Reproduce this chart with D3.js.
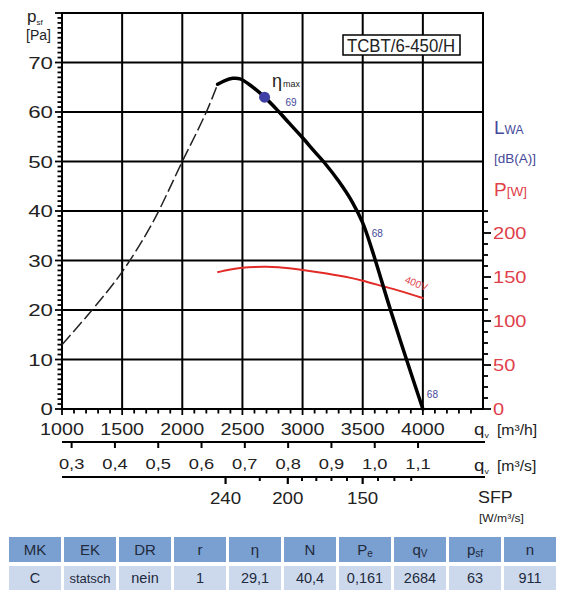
<!DOCTYPE html>
<html><head><meta charset="utf-8">
<script src="https://cdn.jsdelivr.net/npm/d3@7"></script>
<style>body{margin:0;background:#fff} svg{display:block} text{font-family:"Liberation Sans",Arial,Helvetica,sans-serif}</style>
</head><body><svg id="c" width="567" height="600"></svg>
<script>
// ---- data ----
const flowTicks = [1000,1500,2000,2500,3000,3500,4000];
const flowLabels = ["1000","1500","2000","2500","3000","3500","4000"];
const pressureTicks = [0,10,20,30,40,50,60,70];
const powerTicks = [0,50,100,150,200];
const flowM3sTicks = [0.3,0.4,0.5,0.6,0.7,0.8,0.9,1.0,1.1];
const flowM3sLabels = ["0,3","0,4","0,5","0,6","0,7","0,8","0,9","1,0","1,1"];
const sfpMajor = [240,200,150];
const sfpMinor = [220,190,180,170,160,140,130,120];
const dashQ = [1000,1250,1500,1750,2000,2200,2294];
const dashP = [13,20,27.7,37.5,50,60,65.6];
const solidQ = [2294,2350,2420,2480,2560,2684,2805,2887,3000,3100,3177,3301,3411,3500,3577,3731,3864,4000];
const solidP = [65.6,66.3,66.8,66.7,65.5,63,60,57.8,54.8,52.0,49.9,46,41.9,37.6,32.2,20,10,0];
const powerQ = [2291,2400,2500,2600,2700,2800,3000,3200,3400,3500,3660,3800,4005];
const powerW = [155.3,158.5,160.5,161.5,161.7,161,158,154,149,145.8,139.8,134.5,125.8];
const etaMaxQ = 2684, etaMaxP = 63;
const noiseQ = [2684,3500,4000];
const noiseDb = ["69","68","68"];
const tableHeaders = ["MK","EK","DR","r","η","N","P","q","p","n"];
const tableHeaderSubs = ["","","","","","","e","V","sf",""];
const tableValues = ["C","statsch","nein","1","29,1","40,4","0,161","2684","63","911"];
const modelName = "TCBT/6-450/H";

// ---- scales ----
const svg = d3.select('#c');
const x = d3.scaleLinear().domain([1000,4500]).range([62,483]);
const y = d3.scaleLinear().domain([0,80]).range([409,13]);
const yP = d3.scaleLinear().domain([0,200]).range([409,233]);
const xs = v => x(v*3600);
const TXT = "#222";
const RED = "#e0404a";
const BLUE = "#45489a";

function txt(g, px, py, s, o={}) {
  const t = g.append('text')
    .attr('transform', `translate(${px},${py}) scale(${o.sx||1},1)`)
    .attr('font-size', o.size||16)
    .attr('fill', o.fill||TXT)
    .attr('text-anchor', o.anchor||'start')
    .text(s);
  return t;
}

// ---- grid ----
const grid = svg.append('g').attr('stroke','#000').attr('stroke-width',2);
flowTicks.slice(1).forEach(v=>grid.append('line').attr('x1',x(v)).attr('x2',x(v)).attr('y1',y(80)).attr('y2',y(0)));
pressureTicks.slice(1).forEach(v=>grid.append('line').attr('x1',x(1000)).attr('x2',x(4500)).attr('y1',y(v)).attr('y2',y(v)));
grid.append('rect').attr('x',x(1000)).attr('y',y(80)).attr('width',x(4500)-x(1000)).attr('height',y(0)-y(80)).attr('fill','none');

// ---- ticks ----
const tk = svg.append('g').attr('stroke','#000').attr('stroke-width',1.8);
d3.range(0,81,1).forEach(v=>tk.append('line').attr('x1',x(1000)-(v%10===0?7:4.5)).attr('x2',x(1000)).attr('y1',y(v)).attr('y2',y(v)));
d3.range(1000,4500,100).forEach(v=>tk.append('line').attr('x1',x(v)).attr('x2',x(v)).attr('y1',y(0)).attr('y2',y(0)+(v%500===0?6:4.5)));
d3.range(0,226,12.5).forEach(v=>tk.append('line').attr('x1',x(4500)).attr('x2',x(4500)+(v%50===0?8:5)).attr('y1',yP(v)).attr('y2',yP(v)));

// ---- tick labels ----
const lab = svg.append('g');
pressureTicks.forEach(v=>txt(lab,53,y(v)+6,String(v),{anchor:'end',size:16.5,sx:1.35}));
flowTicks.forEach((v,i)=>txt(lab,x(v),435,flowLabels[i],{anchor:'middle',size:17,sx:1.16}));
powerTicks.forEach(v=>txt(lab,493,yP(v)+6,String(v),{size:17,sx:1.18,fill:RED}));

// second axis m3/s
svg.append('line').attr('x1',62).attr('x2',485).attr('y1',442).attr('y2',442).attr('stroke','#000').attr('stroke-width',2);
flowM3sTicks.forEach((v,i)=>{
  svg.append('line').attr('x1',xs(v)).attr('x2',xs(v)).attr('y1',442).attr('y2',448).attr('stroke','#000').attr('stroke-width',2);
  txt(lab,xs(v),469,flowM3sLabels[i],{anchor:'middle',size:15,sx:1.22});
});

// SFP axis: position from P(q)/q
const pOfQ = d3.scaleLinear().domain(powerQ).range(powerW);
const qSamples = d3.range(2300,4001,10);
const sfpSamples = qSamples.map(q=>pOfQ(q)/(q/3600));
const qOfSfp = d3.scaleLinear().domain(sfpSamples).range(qSamples);
svg.append('line').attr('x1',62).attr('x2',485).attr('y1',477).attr('y2',477).attr('stroke','#000').attr('stroke-width',2);
sfpMajor.forEach(v=>{
  const px = x(qOfSfp(v));
  svg.append('line').attr('x1',px).attr('x2',px).attr('y1',477).attr('y2',484).attr('stroke','#000').attr('stroke-width',2.2);
  txt(lab,px,504,String(v),{anchor:'middle',size:16,sx:1.17});
});
sfpMinor.forEach(v=>{
  const px = x(qOfSfp(v));
  svg.append('line').attr('x1',px).attr('x2',px).attr('y1',477).attr('y2',481).attr('stroke','#000').attr('stroke-width',2);
});

// ---- axis titles ----
let t = txt(svg,27,22,'p',{size:17});
t.append('tspan').attr('font-size',8).attr('dy',3).text('sf');
txt(svg,26,40,'[Pa]',{size:14});
t = txt(svg,474,435,'q',{size:17,sx:1.1});
t.append('tspan').attr('font-size',8).attr('dy',3).text('v');
txt(svg,497,435,'[m³/h]',{size:15,sx:1.05});
t = txt(svg,474,471,'q',{size:17,sx:1.1});
t.append('tspan').attr('font-size',8).attr('dy',3).text('v');
txt(svg,497,471,'[m³/s]',{size:15,sx:1.05});
txt(svg,478,503,'SFP',{size:16,sx:1.12});
txt(svg,479,522,'[W/m³/s]',{size:11,sx:1.1});
t = txt(svg,494,134,'L',{size:19,fill:BLUE});
t.append('tspan').attr('font-size',12).text('WA');
txt(svg,494,163,'[dB(A)]',{size:13.5,fill:BLUE});
t = txt(svg,494,196,'P',{size:19,fill:RED});
t.append('tspan').attr('font-size',13.5).text('[W]');

// ---- model box ----
svg.append('rect').attr('x',343).attr('y',35).attr('width',117).attr('height',20).attr('fill','#fff').attr('stroke','#000').attr('stroke-width',1.5);
svg.append('text').attr('x',347).attr('y',51.5).attr('font-size',19).attr('fill',TXT)
  .attr('textLength',108).attr('lengthAdjust','spacingAndGlyphs').text(modelName);

// ---- curves ----
const lineP = d3.line().x(d=>x(d[0])).y(d=>y(d[1])).curve(d3.curveCatmullRom.alpha(0.5));
const lineW = d3.line().x(d=>x(d[0])).y(d=>yP(d[1])).curve(d3.curveCatmullRom.alpha(0.5));
svg.append('path').attr('d',lineP(dashQ.map((q,i)=>[q,dashP[i]]))).attr('fill','none').attr('stroke','#222').attr('stroke-width',1.5).attr('stroke-dasharray','13,4');
svg.append('path').attr('d',lineW(powerQ.map((q,i)=>[q,powerW[i]]))).attr('fill','none').attr('stroke','#e22b26').attr('stroke-width',2);
svg.append('path').attr('d',lineP(solidQ.map((q,i)=>[q,solidP[i]]))).attr('fill','none').attr('stroke','#000').attr('stroke-width',3.5).attr('stroke-linecap','round');
svg.append('circle').attr('cx',x(etaMaxQ)).attr('cy',y(etaMaxP)).attr('r',5.5).attr('fill','#3f3fa6');

// labels
const pOnCurve = d3.scaleLinear().domain(solidQ).range(solidP);
const noiseOffsets = [[21,9],[9,14],[4,-11]];
noiseQ.forEach((q,i)=>{
  svg.append('text').attr('x',x(q)+noiseOffsets[i][0]).attr('y',y(pOnCurve(q))+noiseOffsets[i][1])
    .attr('font-size',10).attr('fill',BLUE).text(noiseDb[i]);
});
t = txt(svg,272,87,'η',{size:18});
t.append('tspan').attr('font-size',9).attr('dx',1).text('max');
svg.append('text').attr('transform',`translate(${x(3845)},${yP(144)}) rotate(22)`).attr('font-size',10).attr('fill',RED).text('400V');

// ---- table ----
const band = d3.scaleBand().domain(d3.range(tableHeaders.length)).range([9,556]).paddingInner(0.055);
const tb = svg.append('g');
tableHeaders.forEach((h,i)=>{
  const bx = band(i), bw = band.bandwidth();
  tb.append('rect').attr('x',bx).attr('y',537).attr('width',bw).attr('height',25).attr('fill','#7a9fd1');
  tb.append('rect').attr('x',bx).attr('y',566).attr('width',bw).attr('height',24).attr('fill','#ccd9ed');
  const ht = tb.append('text').attr('x',bx+bw/2).attr('y',555).attr('text-anchor','middle').attr('font-size',15).attr('fill','#1f2a3c').text(h);
  if (tableHeaderSubs[i]) ht.append('tspan').attr('font-size',10).attr('dy',2).text(tableHeaderSubs[i]);
  tb.append('text').attr('x',bx+bw/2).attr('y',583).attr('text-anchor','middle').attr('font-size',tableValues[i].length>5?13:14.5).attr('fill','#1f2a3c').text(tableValues[i]);
});
</script></body></html>
